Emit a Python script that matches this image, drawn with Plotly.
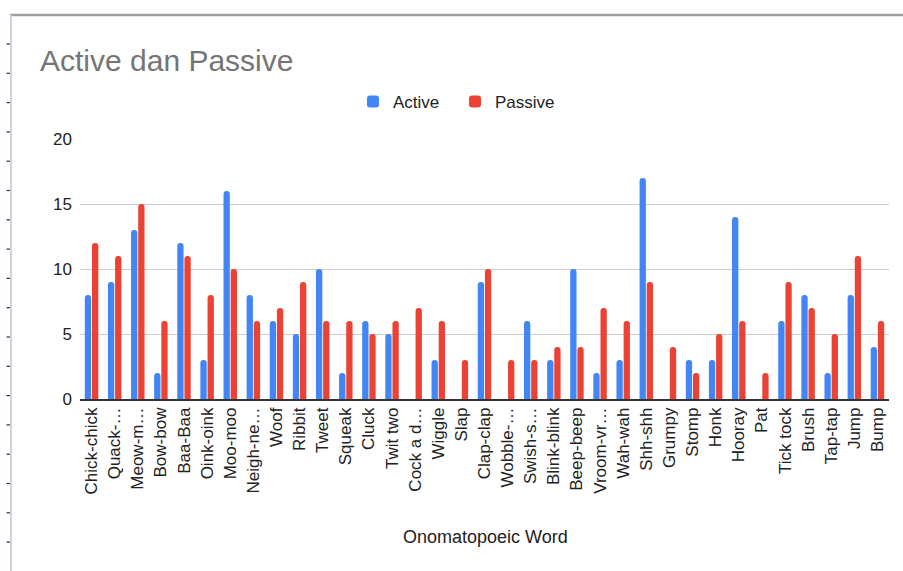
import plotly.graph_objects as go

# Onomatopoeic words and their counts per voice
words = [
    "Chick-chick", "Quack-…", "Meow-m…", "Bow-bow", "Baa-Baa", "Oink-oink",
    "Moo-moo", "Neigh-ne…", "Woof", "Ribbit", "Tweet", "Squeak", "Cluck",
    "Twit two", "Cock a d…", "Wiggle", "Slap", "Clap-clap", "Wobble-…",
    "Swish-s…", "Blink-blink", "Beep-beep", "Vroom-vr…", "Wah-wah", "Shh-shh",
    "Grumpy", "Stomp", "Honk", "Hooray", "Pat", "Tick tock", "Brush",
    "Tap-tap", "Jump", "Bump",
]
active = [8, 9, 13, 2, 12, 3, 16, 8, 6, 5, 10, 2, 6, 5, 0, 3, 0, 9, 0,
          6, 3, 10, 2, 3, 17, 0, 3, 3, 14, 0, 6, 8, 2, 8, 4]
passive = [12, 11, 15, 6, 11, 8, 10, 6, 7, 9, 6, 6, 5, 6, 7, 6, 3, 10, 3,
           3, 4, 4, 7, 6, 9, 4, 2, 5, 6, 2, 9, 7, 5, 11, 6]
y_ticks = [0, 5, 10, 15, 20]

W, H = 903, 571
L, R, T, B = 80, 14, 139, 172          # plot-area margins in px
PW, PH = W - L - R, H - T - B


def px_x(px):
    return (px - L) / PW


def px_y(py):
    return (H - B - py) / PH


FONT = "Arial, Liberation Sans, sans-serif"
TEXT = "#222222"

fig = go.Figure()
fig.add_trace(go.Bar(name="Active", x=words, y=active,
                     marker=dict(color="#4285F4", cornerradius=3, line_width=0)))
fig.add_trace(go.Bar(name="Passive", x=words, y=passive,
                     marker=dict(color="#EA4335", cornerradius=3, line_width=0)))

shapes = [
    # sheet frame: top border and left edge
    dict(type="line", xref="paper", yref="paper", x0=px_x(10), x1=px_x(903),
         y0=px_y(15), y1=px_y(15), line=dict(color="#a0a0a0", width=2.5)),
    dict(type="line", xref="paper", yref="paper", x0=px_x(11), x1=px_x(11),
         y0=px_y(15), y1=px_y(571), line=dict(color="#c9d3e3", width=2)),
]
tick_y = 44.0
while tick_y < 571:
    shapes.append(dict(type="line", xref="paper", yref="paper",
                       x0=px_x(6.5), x1=px_x(10), y0=px_y(tick_y), y1=px_y(tick_y),
                       line=dict(color="#333333", width=1.2)))
    tick_y += 29.3

fig.update_layout(
    width=W, height=H,
    margin=dict(l=L, r=R, t=T, b=B),
    paper_bgcolor="white", plot_bgcolor="white",
    barmode="group", bargap=0.38, bargroupgap=0.12,
    font=dict(family=FONT, size=17, color=TEXT),
    title=dict(text="Active dan Passive", x=40 / W, xref="container",
               xanchor="left", y=1 - 60 / H, yref="container", yanchor="middle",
               font=dict(family=FONT, size=30, color="#757575")),
    legend=dict(orientation="h", x=px_x(353), xanchor="left",
                y=px_y(102), yanchor="middle",
                font=dict(family=FONT, size=17, color=TEXT),
                itemwidth=30, entrywidth=57, entrywidthmode="pixels",
                bgcolor="rgba(0,0,0,0)"),
    xaxis=dict(tickangle=-90, tickfont=dict(family=FONT, size=17, color=TEXT),
               showgrid=False, ticks="", showline=True, linecolor="#333333",
               linewidth=1.5),
    yaxis=dict(range=[0, 20], tickvals=y_ticks, showgrid=True,
               gridcolor="#cccccc", gridwidth=1, zeroline=False, ticks="",
               ticklabelstandoff=7,
               tickfont=dict(family=FONT, size=17, color=TEXT)),
    shapes=shapes,
    annotations=[dict(text="Onomatopoeic Word", xref="paper", yref="paper",
                      x=px_x(485), y=px_y(537), xanchor="center", yanchor="middle",
                      showarrow=False,
                      font=dict(family=FONT, size=18, color=TEXT))],
)

fig.write_html("out.html")
